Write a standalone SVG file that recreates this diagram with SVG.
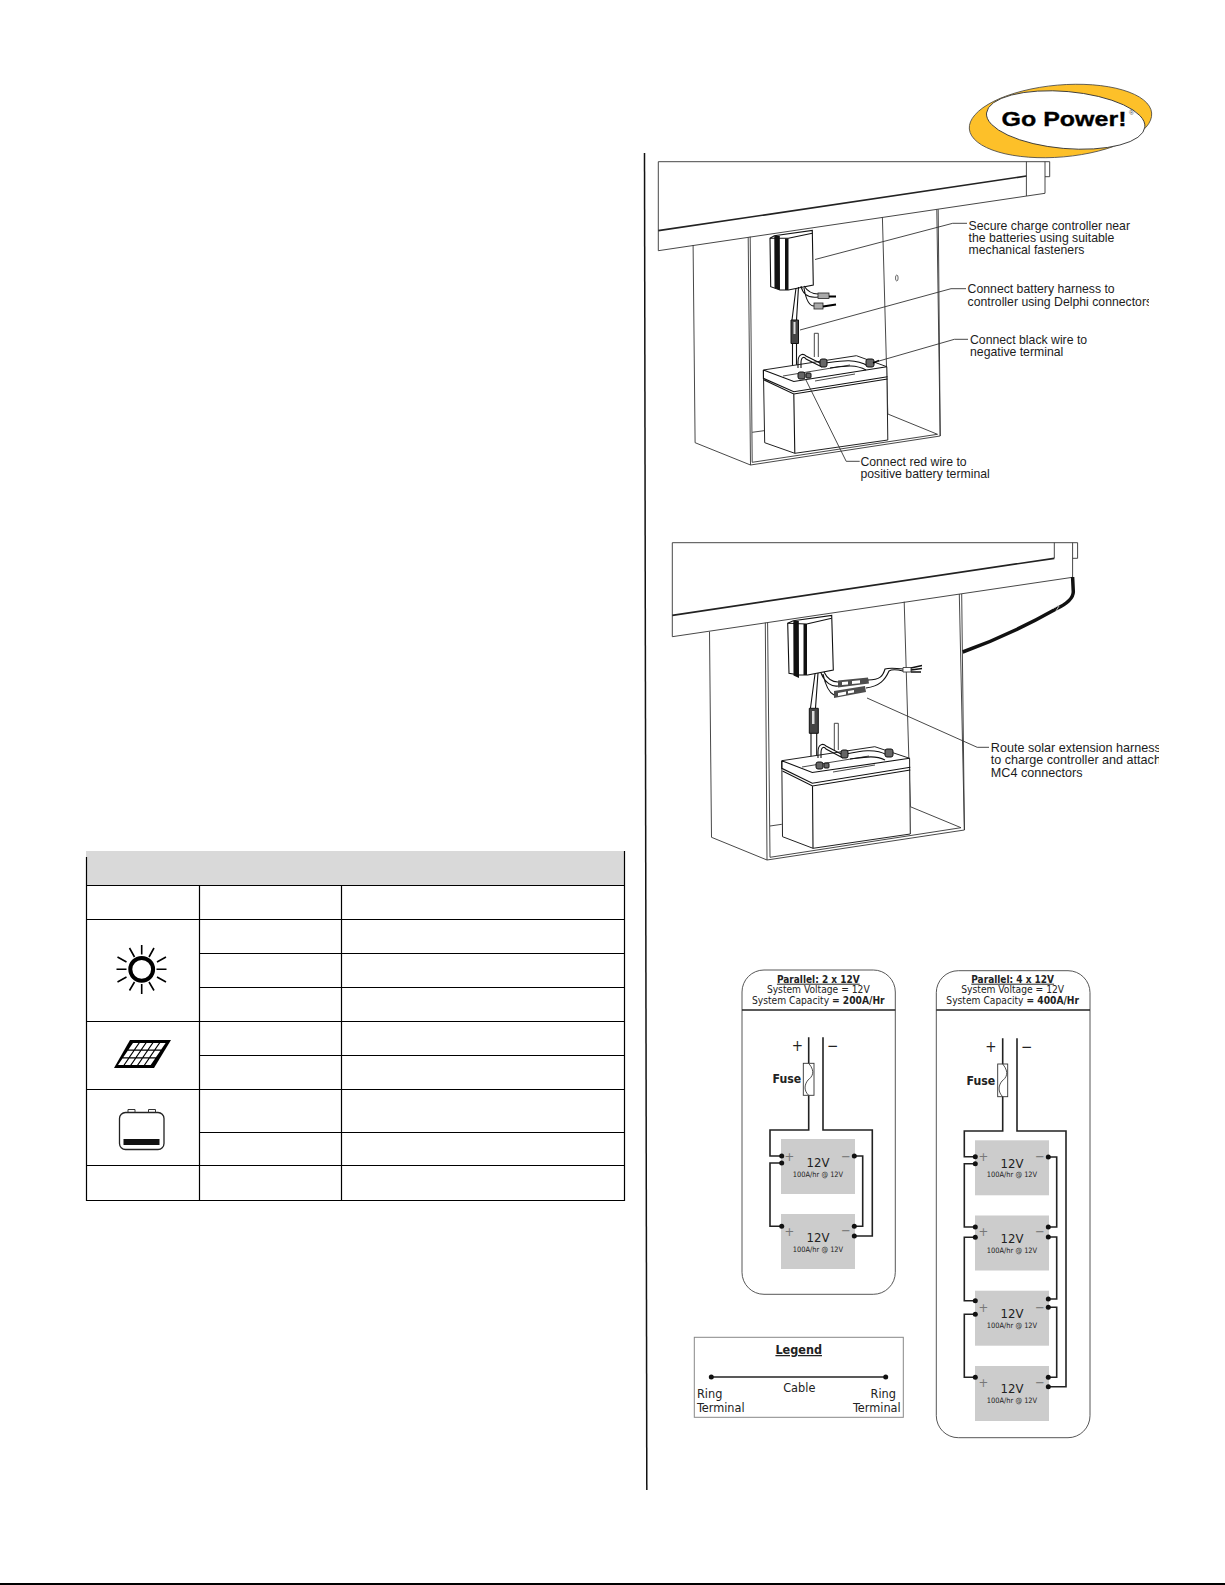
<svg xmlns="http://www.w3.org/2000/svg" width="1225" height="1585" viewBox="0 0 1225 1585">
<defs>
<style>
.l{fill:none;stroke:#333;stroke-width:.9}
.k{fill:none;stroke:#111;stroke-width:1.1}
.b{fill:none;stroke:#222;stroke-width:1.7}
.w{fill:none;stroke:#222;stroke-width:1.6}
.t{fill:none;stroke:#000;stroke-width:1.2}
.a{font-family:"Liberation Sans",Arial,sans-serif;font-size:12.25px;fill:#1c1c1c}
.a2{font-size:12.6px}
.v{font-family:"DejaVu Sans Condensed","DejaVu Sans",sans-serif;font-stretch:condensed;fill:#222}
.c{text-anchor:middle}
.h{font-size:10.2px}
.p{font-size:10px;font-weight:700;text-decoration:underline}
.n{font-size:13px}
.s{font-size:7.4px}
.g{font-size:13px;fill:#777}
.fu{font-size:12.2px;font-weight:700}
.bat{fill:#ccc}
.x{fill:#111}
.f{fill:#666;stroke:#111;stroke-width:1}
</style>
<circle id="dot" r="2.5" class="x"/>
<clipPath id="c1"><rect x="640" y="150" width="509" height="340"/></clipPath>
<clipPath id="c2"><rect x="640" y="530" width="519" height="350"/></clipPath>
</defs>
<rect width="1225" height="1585" fill="#fff"/>

<g id="page-rules">
<path d="M644.5 153L646.8 1490" fill="none" stroke="#111" stroke-width="1.5"/>
<rect x="0" y="1583" width="1225" height="2" fill="#000"/>
</g>

<g id="logo">
<ellipse cx="1060.5" cy="121" rx="91.5" ry="36" transform="rotate(-5 1060.5 121)" fill="#fdc029" stroke="#444" stroke-width=".8"/>
<ellipse cx="1065.7" cy="120" rx="79.5" ry="28.5" transform="rotate(5 1065.7 120)" fill="#fff" stroke="#333" stroke-width=".9"/>
<text x="1001.5" y="125.5" textLength="125" lengthAdjust="spacingAndGlyphs" style="font-family:'Liberation Sans',Arial,sans-serif;font-weight:700;font-size:21px;fill:#000;stroke:#000;stroke-width:.35">Go Power!</text>
<text x="1129" y="115" style="font-family:'Liberation Sans',Arial,sans-serif;font-size:7px;fill:#555">®</text>
</g>

<g id="table">
<rect x="86" y="851" width="539" height="34" fill="#d9d9d9"/>
<path class="t" d="M86.500 857V1200.500H624.500V851M86 885.500H625M86 919.500H625M199 953.500H625M199 987.500H625M86 1021.500H625M199 1055.500H625M86 1089.500H625M199 1132.500H625M86 1165.500H625M199.500 885V1200M341.500 885V1200"/>
</g>
<g id="icon-sun" stroke="#000" fill="none">
<circle cx="141.7" cy="969.3" r="11.4" stroke-width="4"/>
<path stroke-width="1.6" d="M141.7 945V954.500M141.7 984V994M154 948L149 957M129.500 948L134.500 957M166 957L157 962M117.500 957L126.500 962M166.500 969.3H156.500M116.500 969.3H126.500M166 982L157 977M117.500 982L126.500 977M154 990.500L149 982M129.500 990.500L134.500 982"/>
</g>
<g id="icon-panel">
<path d="M130 1040H171L154 1068H114Z" fill="#000"/>
<path transform="matrix(34 0 -15 22 133 1043)" fill="#fff" d="M0 0h.16v.3h-.16zM.2 0h.16v.3h-.16zM.4 0h.16v.3h-.16zM.6 0h.16v.3h-.16zM.8 0h.16v.3h-.16zM0 .35h.16v.3h-.16zM.2 .35h.16v.3h-.16zM.4 .35h.16v.3h-.16zM.6 .35h.16v.3h-.16zM.8 .35h.16v.3h-.16zM0 .7h.16v.3h-.16zM.2 .7h.16v.3h-.16zM.4 .7h.16v.3h-.16zM.6 .7h.16v.3h-.16zM.8 .7h.16v.3h-.16z"/>
</g>
<g id="icon-battery">
<rect x="119.500" y="1112.500" width="44.500" height="37" rx="6" fill="#fff" stroke="#222" stroke-width="1.300"/>
<path d="M128 1112.500v-3h7v3M148.500 1112.500v-3h7v3" fill="none" stroke="#333"/>
<rect x="123.500" y="1139" width="36" height="6" fill="#111"/>
</g>

<g id="install-1" clip-path="url(#c1)">
<g id="frame-1">
<path class="l" d="M658.300 161.700H1049.700V176.700H1045M1026.400 161.700V196M1045 161.700V193.300M658.300 161.700V250.700L1045 193.300M693.100 245L695.100 442.700L750.500 465L940.200 436L936.800 209.300M938.200 209.300L940.200 436M748.200 237.300L750.500 465M750.200 236.700L752.200 462.300L937.500 434.300M882.400 217.300L887.800 414L937.500 434.300M752.200 432.300L764 430.700"/>
<path class="b" d="M658.300 230.700L1026.400 176"/>
</g>
<g id="battery-1">
<path class="l" d="M814.300 357V333.300H818.300V357"/>
<path class="k" d="M792.500 343V372M796.500 343V372"/>
<path d="M763.400 370L856.400 355.700L886.800 366.700L887.800 440L794.800 453.300L764.700 442.700Z" fill="#fff" stroke="#222" stroke-width="1"/>
<path class="k" d="M763.400 370V378.300L793.800 391.700L887.500 376.700M763.400 370L793.800 381.500L886.800 366.700M764.100 380L793.800 394L887.500 379M793.800 394L794.800 453.300"/>
<path class="l" d="M783 376L850 365M815 381L855 374"/>
<path class="k" d="M798 368V362C798 354 803 353 806 356L822 364M801 368V363C801 357 804 356 806 359L822 367"/>
<path class="k" d="M826 363C840 361 855 358 868 366M830 368C845 366 855 364 866 370"/>
<g class="f"><rect x="820" y="359" width="7" height="8" rx="2"/><rect x="866" y="359" width="8" height="8" rx="2"/><rect x="798" y="372" width="7" height="7" rx="2"/><rect x="806" y="373" width="5" height="5" rx="1"/></g>
<path d="M873 363l6-2.500" stroke="#000" stroke-width="1.500"/>
</g>
<g id="controller-1">
<path d="M770 238.300L774.300 235.700L812.300 230.500L813.300 285L788.300 290H780L770.700 286.700Z" fill="#fff" stroke="#111" stroke-width="1.100"/>
<path class="x" d="M774.300 236h5.500l.2 54-5.500-2zM785 238.500h3.500V290H785z"/>
<path class="k" d="M788.300 238.300L812.300 233.300M770 238.300L788.300 238.300"/>
<path class="k" d="M796 288L792 320M798.500 287L796.500 320"/>
<path class="k" d="M801 286C803 296 810 298 818 297M804 286C808 292 812 294 818 294M804 288C806 300 810 306 814 306"/>
<path d="M791 320h7.500v23.500h-7.500z" fill="#444" stroke="#111"/>
<path fill="#ddd" d="M793.500 322h2v12h-2z"/>
<g fill="#aaa" stroke="#222" stroke-width=".8"><rect x="818" y="293" width="11" height="5.500"/><rect x="814" y="303" width="9" height="6"/></g>
<path d="M829 296.500h7M823 306.500l13-2" stroke="#000" stroke-width="2"/>
</g>
<g id="leaders-1" class="l">
<path d="M815 259.500L952.700 223.300H967"/>
<path d="M800 330L951 288.700H966"/>
<path d="M876.600 361.700L954.400 339.300H968"/>
<path d="M805.600 379.300L846.200 461.300H859.700"/>
</g>
<ellipse cx="896.800" cy="278" rx="1.300" ry="3" fill="none" stroke="#444" stroke-width=".8"/>
<g id="labels-1" class="a">
<text x="968.600" y="230">Secure charge controller near</text>
<text x="968.600" y="242">the batteries using suitable</text>
<text x="968.600" y="254">mechanical fasteners</text>
<text x="967.600" y="293.300">Connect battery harness to</text>
<text x="967.600" y="305.700">controller using Delphi connectors</text>
<text x="970" y="343.700">Connect black wire to</text>
<text x="970" y="356">negative terminal</text>
<text x="860.400" y="465.700">Connect red wire to</text>
<text x="860.400" y="478">positive battery terminal</text>
</g>
</g>

<g id="install-2" clip-path="url(#c2)">
<g id="frame-2">
<path class="l" d="M672.300 542.700H1077.600V558.300H1072.600M1054.300 542.700V558.300M1072.600 542.700V577.300M672.300 542.700V636.700L1072.600 577.300M709.500 631.700L711.500 837.300L767 860L964.400 830L959.300 594M961.700 594L964.400 830M765.300 622.700L767 860M767.600 622.700L770 857.300L961 827.700M904.200 601.700L910.300 806.700L961 827.700M770 826L781.800 824.300"/>
<path class="b" d="M672.300 615.300L1054.300 558.300"/>
<path d="M1072.600 577L1073.300 592Q1073 601 1056 609Q1010 635 962.700 652" fill="none" stroke="#111" stroke-width="3.500"/>
<path d="M1053 608.500l5-3M1056 611l3-5" stroke="#ddd" stroke-width=".8"/>
</g>
<g id="battery-2">
<path class="l" d="M834.300 750V723.300H838.300V750"/>
<path class="k" d="M811 733V762M816.700 733V762"/>
<path d="M781.800 760.700L874.800 746.700L909.600 758.300L910.300 834L813 848.300L782.500 836.700Z" fill="#fff" stroke="#222" stroke-width="1"/>
<path class="k" d="M781.800 760.700V768.300L812.300 783.300L910.300 767.300M781.800 760.700L812.300 772.500L909.600 758.300M782.500 771L812.500 786L910.300 770M812.500 786L813 848.300"/>
<path class="l" d="M802 767L869 756M833 772L875 765"/>
<path class="k" d="M818 758V752C818 744 823 743 826 746L843 755M821 758V753C821 747 824 746 826 749L843 758"/>
<path class="k" d="M846 754C860 751 875 748 887 755M850 759C865 757 875 755 885 760"/>
<g class="f"><rect x="841" y="750" width="7" height="8" rx="2"/><rect x="885" y="749" width="8" height="8" rx="2"/><rect x="816" y="762" width="7" height="7" rx="2"/><rect x="824" y="763" width="5" height="5" rx="1"/></g>
</g>
<g id="controller-2">
<path d="M787.700 623.300L793.300 620.700L831.700 615.500L833.300 670L807.700 675H799L789 673.300Z" fill="#fff" stroke="#111" stroke-width="1.100"/>
<path class="x" d="M793.300 621h5.500l.2 57-5.500-2.500zM803.500 624h3.500V675h-3.500z"/>
<path class="k" d="M806.700 624L831.700 618.300M787.700 623.300L806.700 624"/>
<path class="k" d="M815 674L810.500 708M818 673L815.500 708"/>
<path d="M809.300 708.300h9v25h-9z" fill="#444" stroke="#111"/>
<path fill="#ddd" d="M812 711h2.500v13H812z"/>
<path class="k" d="M821 673C825 683 832 687 838 686M824 672C828 680 833 682 838 682M823 674C826 688 830 693 834 695"/>
<path class="x" d="M838 680.500l30-3 1 6-31 4zM834 691l31-5 1 6-32 6z" fill-opacity=".75"/>
<path fill="#fff" d="M842 682l6-.5v3l-6 .5zM852 681l8-.8v3l-8 .8zM838 693l8-1.500v3l-8 1.500zM848 691l6-1v2.500l-6 1z"/>
<path class="k" d="M868 680C880 680 883 676 885 669C888 668 895 668 903 669M866 688C880 686 885 680 889 671C892 669 895 669 903 671"/>
<path d="M903 667.500h8v4.500h-8z" fill="#fff" stroke="#222" stroke-width=".8"/>
<path d="M911 668l11-2.500M911 670l11-1.500M911 672l10 0" stroke="#111" stroke-width="1.300"/>
</g>
<path class="l" d="M867 698L977.200 747.300H989"/>
<g id="labels-2" class="a a2">
<text x="990.800" y="751.700">Route solar extension harness</text>
<text x="990.800" y="764.300">to charge controller and attach</text>
<text x="990.800" y="777">MC4 connectors</text>
</g>
</g>

<g id="parallel-2">
<rect x="742" y="970" width="153.300" height="324.300" rx="22" fill="#fff" stroke="#444" stroke-width=".9"/>
<path d="M742 1010H895.300" stroke="#222" stroke-width="1.300"/>
<text class="v c p" x="818.300" y="982.700">Parallel: 2 x 12V</text>
<text class="v c h" x="818.300" y="993.300">System Voltage = 12V</text>
<text class="v c h" x="818.300" y="1004">System Capacity <tspan font-weight="700">= 200A/Hr</tspan></text>
<rect class="bat" x="781" y="1139" width="74" height="55"/>
<rect class="bat" x="781" y="1214" width="74" height="55"/>
<g id="wires-2" class="w">
<path d="M808.700 1037.300V1063.300M808.700 1095.300V1130H770V1156H781.700M781.700 1163H770V1226.300H781.700M823 1037.300V1130H872.300V1236H854.300M854.300 1156H862.700V1226.300H854.300"/>
</g>
<rect x="803.300" y="1063.300" width="10.700" height="32" fill="#fff" stroke="#333" stroke-width=".9"/>
<path d="M808.700 1063.300C816 1072 812 1077 808 1080C804 1085 804 1091 808.700 1095.300" fill="none" stroke="#222" stroke-width=".8"/>
<use href="#dot" x="781.700" y="1156"/><use href="#dot" x="781.700" y="1163"/><use href="#dot" x="781.700" y="1226.300"/>
<use href="#dot" x="854.300" y="1156"/><use href="#dot" x="854.300" y="1226.300"/><use href="#dot" x="854.300" y="1236"/>
<text class="v c" x="797.300" y="1051" style="font-size:15px">+</text>
<text class="v c" x="832.700" y="1051" style="font-size:15px">−</text>
<text class="v fu" x="772.500" y="1083.300">Fuse</text>
<text class="v c g" x="789.300" y="1160.500">+</text><text class="v c g" x="846" y="1160.500">−</text>
<text class="v c g" x="789.300" y="1235.500">+</text><text class="v c g" x="846" y="1235">−</text>
<text class="v c n" x="818" y="1166.700">12V</text><text class="v c s" x="818" y="1176.700">100A/hr @ 12V</text>
<text class="v c n" x="818" y="1241.700">12V</text><text class="v c s" x="818" y="1251.700">100A/hr @ 12V</text>
</g>

<g id="parallel-4">
<rect x="936.300" y="970.700" width="153.700" height="467" rx="22" fill="#fff" stroke="#444" stroke-width=".9"/>
<path d="M936.300 1010H1090" stroke="#222" stroke-width="1.300"/>
<text class="v c p" x="1012.700" y="982.700">Parallel: 4 x 12V</text>
<text class="v c h" x="1012.700" y="993.300">System Voltage = 12V</text>
<text class="v c h" x="1012.700" y="1004">System Capacity <tspan font-weight="700">= 400A/Hr</tspan></text>
<rect class="bat" x="975" y="1140.300" width="74" height="55"/>
<rect class="bat" x="975" y="1215.500" width="74" height="55"/>
<rect class="bat" x="975" y="1290.700" width="74" height="55"/>
<rect class="bat" x="975" y="1366" width="74" height="55"/>
<g id="wires-4" class="w">
<path d="M1002.700 1038.300V1064M1002.700 1096.700V1131H964.300V1156.700H975.300M975.300 1163.700H964.300V1227H975.300M975.300 1237.300H964.300V1300.700H975.300M975.300 1314.300H964.300V1377.300H975.300M1017 1038.300V1131H1066V1386.700H1048.300M1048.300 1157H1056.700V1227H1048.300M1048.300 1237H1056.700V1299H1048.300M1048.300 1307.300H1056.700V1377.300H1048.300"/>
</g>
<rect x="997.700" y="1064" width="10" height="32.700" fill="#fff" stroke="#333" stroke-width=".9"/>
<path d="M1002.700 1064C1010 1073 1006 1078 1002 1081C998 1086 998 1092 1002.700 1096.700" fill="none" stroke="#222" stroke-width=".8"/>
<use href="#dot" x="975.300" y="1156.700"/><use href="#dot" x="975.300" y="1163.700"/><use href="#dot" x="975.300" y="1227"/><use href="#dot" x="975.300" y="1237.300"/><use href="#dot" x="975.300" y="1300.700"/><use href="#dot" x="975.300" y="1314.300"/><use href="#dot" x="975.300" y="1377.300"/>
<use href="#dot" x="1048.300" y="1157"/><use href="#dot" x="1048.300" y="1227"/><use href="#dot" x="1048.300" y="1237"/><use href="#dot" x="1048.300" y="1299"/><use href="#dot" x="1048.300" y="1307.300"/><use href="#dot" x="1048.300" y="1377.300"/><use href="#dot" x="1048.300" y="1386.700"/>
<text class="v c" x="991" y="1052" style="font-size:15px">+</text>
<text class="v c" x="1026.700" y="1052" style="font-size:15px">−</text>
<text class="v fu" x="966.500" y="1085">Fuse</text>
<text class="v c g" x="983.300" y="1161">+</text><text class="v c g" x="1040" y="1161">−</text>
<text class="v c g" x="983.300" y="1236.300">+</text><text class="v c g" x="1040" y="1236.300">−</text>
<text class="v c g" x="983.300" y="1311.500">+</text><text class="v c g" x="1040" y="1311.500">−</text>
<text class="v c g" x="983.300" y="1387">+</text><text class="v c g" x="1040" y="1387">−</text>
<text class="v c n" x="1012" y="1167.700">12V</text><text class="v c s" x="1012" y="1177.300">100A/hr @ 12V</text>
<text class="v c n" x="1012" y="1243">12V</text><text class="v c s" x="1012" y="1252.500">100A/hr @ 12V</text>
<text class="v c n" x="1012" y="1318">12V</text><text class="v c s" x="1012" y="1327.700">100A/hr @ 12V</text>
<text class="v c n" x="1012" y="1393.300">12V</text><text class="v c s" x="1012" y="1403">100A/hr @ 12V</text>
</g>

<g id="legend">
<rect x="694.300" y="1337.300" width="209" height="80" fill="#fff" stroke="#888" stroke-width="1"/>
<text class="v c" x="798.700" y="1354" font-weight="700" text-decoration="underline" style="font-size:12.5px">Legend</text>
<path class="w" d="M711.300 1377H885.700"/>
<use href="#dot" x="711.300" y="1377"/><use href="#dot" x="885.700" y="1377"/>
<g class="v" style="font-size:12.6px">
<text class="c" x="799.300" y="1391.700">Cable</text>
<text x="697" y="1398.300">Ring</text>
<text x="697" y="1411.700">Terminal</text>
<text x="896" y="1398.300" text-anchor="end">Ring</text>
<text x="900.700" y="1411.700" text-anchor="end">Terminal</text>
</g>
</g>
</svg>
